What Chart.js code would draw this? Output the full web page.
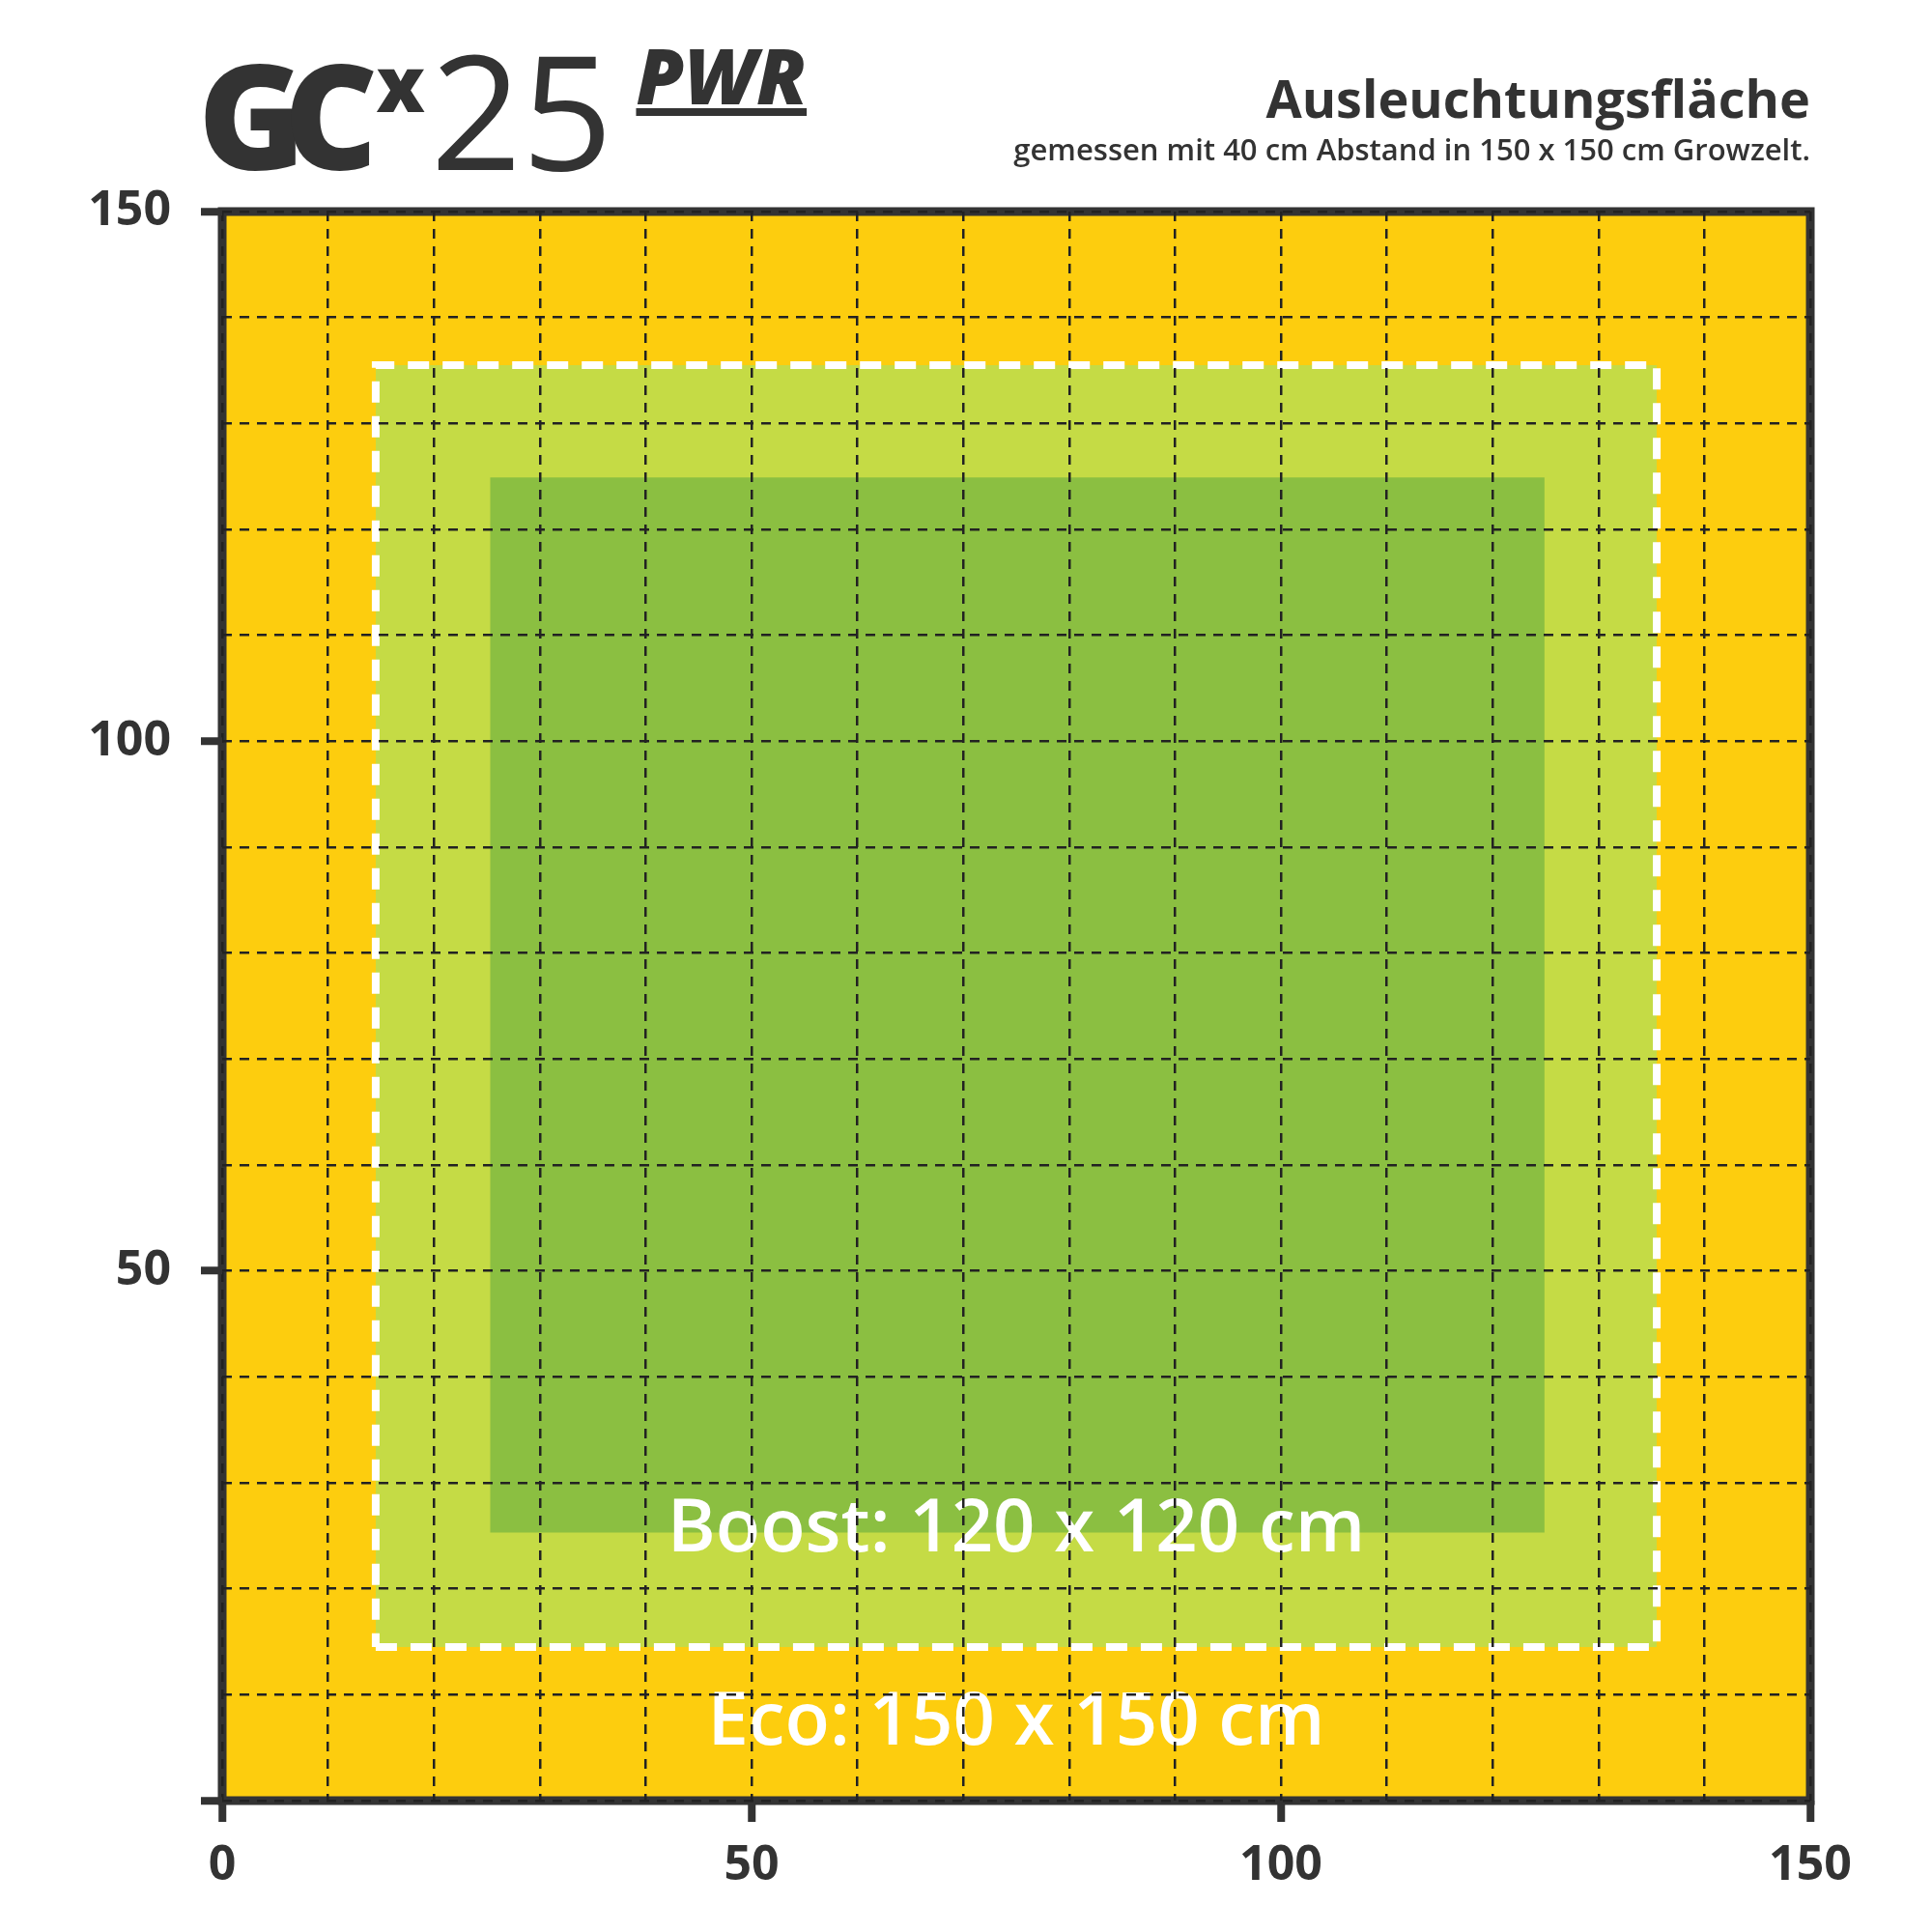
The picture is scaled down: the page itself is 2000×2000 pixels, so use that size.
<!DOCTYPE html>
<html>
<head>
<meta charset="utf-8">
<script src="https://cdn.jsdelivr.net/npm/chart.js@4/dist/chart.umd.min.js"></script>
<style>
  body { margin: 0; background: #fff; font-family: "Open Sans", "Noto Sans", sans-serif; }
  #wrap { position: relative; width: 2000px; height: 2000px; }
  canvas { position: absolute; left: 0; top: 0; }
  .logo { position: absolute; left: 205px; top: 0px; color: #333; white-space: nowrap; }
  .logo .gc { font-size: 150px; font-weight: 800; letter-spacing: -22px; font-family: "Open Sans", sans-serif; }
  .logo .x { font-size: 80px; font-weight: 800; position: relative; top: -60px; margin-left: 20px; }
  .logo .n { font-size: 165px; font-weight: 400; margin-left: 6px; }
  .logo .pwr { font-size: 80px; font-weight: 800; font-style: italic; text-decoration: underline; text-decoration-thickness: 8px; position: relative; top: -68px; margin-left: 24px; }
  .title { position: absolute; right: 126px; top: 68px; text-align: right; color: #333; }
  .title .t1 { font-size: 54px; font-weight: 700; line-height: 66px; }
  .title .t2 { font-size: 31px; font-weight: 600; line-height: 40px; }
</style>
</head>
<body>
<div id="wrap">
  <canvas id="c" width="2000" height="2000"></canvas>
  <div class="logo"><span class="gc">GC</span><span class="x">x</span><span class="n">25</span><span class="pwr">PWR</span></div>
  <div class="title"><div class="t1">Ausleuchtungsfläche</div><div class="t2">gemessen mit 40 cm Abstand in 150 x 150 cm Growzelt.</div></div>
</div>
<script>
// tent size and light footprints (cm)
const tent = [0, 150]
const ecoArea = [14.5, 135.5]
const boostArea = [25.3, 124.9]
const tickLabels = [0, 50, 100, 150]
const areaLabels = [
  { text: "Boost: 120 x 120 cm", x: 75, y: 25.5 },
  { text: "Eco: 150 x 150 cm", x: 75, y: 7.3 },
]

const edge = (r, y) => [{ x: r[0], y: y }, { x: r[1], y: y }]

const datasets = [
  { data: edge(tent, tent[0]), order: 5 },
  { data: edge(tent, tent[1]), backgroundColor: "#FDCD0E", fill: "-1", order: 5 },
  { data: edge(ecoArea, ecoArea[0]), order: 4 },
  { data: edge(ecoArea, ecoArea[1]), backgroundColor: "#C5DB45", fill: "-1", order: 4 },
  { data: edge(boostArea, boostArea[0]), order: 3 },
  { data: edge(boostArea, boostArea[1]), backgroundColor: "#8BBF41", fill: "-1", order: 3 },
  {
    data: [
      { x: ecoArea[0], y: ecoArea[0] }, { x: ecoArea[1], y: ecoArea[0] },
      { x: ecoArea[1], y: ecoArea[1] }, { x: ecoArea[0], y: ecoArea[1] },
      { x: ecoArea[0], y: ecoArea[0] },
    ],
    borderColor: "#ffffff", borderWidth: 8, borderDash: [22, 14], order: 1,
  },
].map(d => Object.assign({ showLine: true, pointRadius: 0, borderWidth: 0, borderColor: "rgba(0,0,0,0)" }, d))

const frameAndText = {
  id: "frameAndText",
  afterDatasetsDraw(chart) {
    const { ctx, chartArea: a, scales } = chart
    ctx.save()
    ctx.fillStyle = "#fff"
    ctx.font = "600 76px 'Open Sans', sans-serif"
    ctx.textAlign = "center"
    ctx.textBaseline = "middle"
    areaLabels.forEach(l => ctx.fillText(l.text, scales.x.getPixelForValue(l.x), scales.y.getPixelForValue(l.y)))
    ctx.strokeStyle = "#333"
    ctx.lineWidth = 9
    ctx.strokeRect(a.left, a.top, a.right - a.left, a.bottom - a.top)
    ctx.restore()
  },
}

const axis = (isY) => ({
  type: "linear", min: tent[0], max: tent[1],
  afterFit: s => { if (isY) s.width = 230; else s.height = 136 },
  grid: {
    z: 1, lineWidth: 2.5, color: "#222", tickLength: 22,
    tickColor: c => (tickLabels.includes(c.tick.value) ? "#333" : "rgba(0,0,0,0)"),
    tickWidth: 8,
  },
  border: { display: false, dash: [10, 8] },
  ticks: {
    stepSize: 10, autoSkip: false, padding: isY ? 31 : 16,
    color: "#333", font: { size: 50, weight: "bold", family: "'Open Sans', sans-serif" },
    callback: v => (tickLabels.includes(v) && !(isY && v === 0) ? v : ""),
  },
})

new Chart(document.getElementById("c"), {
  type: "scatter",
  data: { datasets },
  options: {
    responsive: false, animation: false,
    layout: { padding: { top: 219, right: 126, left: 0, bottom: 0 } },
    plugins: { legend: { display: false }, tooltip: { enabled: false } },
    scales: { x: axis(false), y: axis(true) },
  },
  plugins: [frameAndText],
})
</script>
</body>
</html>
